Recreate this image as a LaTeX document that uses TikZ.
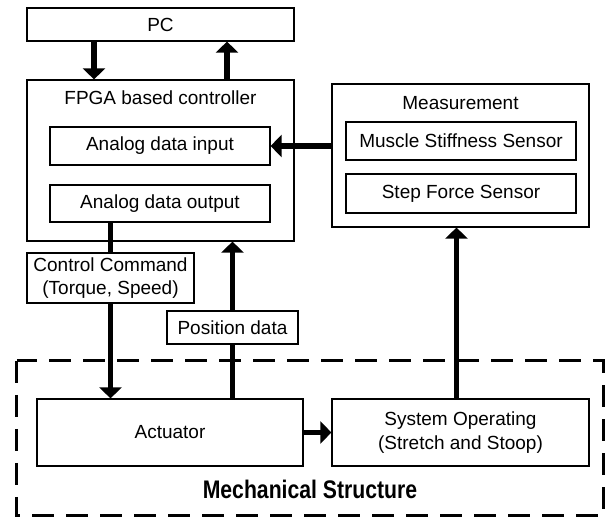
\documentclass[tikz,border=0pt]{standalone}
\usepackage{fontspec}
\setmainfont{Liberation Sans}
\usetikzlibrary{arrows.meta,positioning}

\tikzset{
 blk/.style={draw, line width=0.6pt, fill=white, inner sep=0pt, align=center,
  font=\fontsize{9.5}{11.7}\selectfont},
 lbl/.style={inner sep=0pt, font=\fontsize{9.5}{11.7}\selectfont},
 flow/.style={line width=2.7pt, -{Triangle[width=11pt,length=5.5pt]}},
 link/.style={line width=2.7pt},
 mech/.style={line width=1.5pt, dash pattern=on 11pt off 6pt},
}

\begin{document}
\begin{tikzpicture}[x=0.5pt,y=-0.5pt]
 \useasboundingbox (0,0) rectangle (607,518);
 % top blocks
 \node[blk, minimum width=133.5pt, minimum height=16.5pt] (pc) at (160.5,24.5) {PC};
 \node[blk, minimum width=133.5pt, minimum height=80.5pt] (fpga) at (160.5,160.5) {};
 \node[lbl] (fpgat) at (160.5,98) {FPGA based controller};
 \node[blk, minimum width=110pt, minimum height=19pt] (ain) at (160,146) {Analog data input};
 \node[blk, minimum width=110pt, minimum height=18.5pt] (aout) at (160,203.5) {Analog data output};

 % measurement
 \node[blk, minimum width=128.5pt, minimum height=71.5pt] (meas) at (460.5,155.5) {};
 \node[lbl] (meast) at (460.5,103) {Measurement};
 \node[blk, minimum width=115pt, minimum height=19pt] (mss) at (461,141) {Muscle Stiffness Sensor};
 \node[blk, minimum width=115pt, minimum height=19.5pt] (sfs) at (461,193.5) {Step Force Sensor};

 % signals
 \node[blk, minimum width=83.5pt, minimum height=25pt] (cmd) at (110.5,278) {Control Command\\(Torque, Speed)};
 \node[blk, minimum width=65.5pt, minimum height=16.5pt] (pos) at (232.5,327.5) {Position data};

 % mechanical structure
 \draw[mech] (17,361) rectangle (603,516);
 \node[blk, minimum width=133pt, minimum height=33.5pt] (act) at (170,432.5) {Actuator};
 \node[blk, minimum width=128.5pt, minimum height=33.5pt] (sys) at (460.5,432.5) {System Operating\\(Stretch and Stoop)};
 \node[lbl, font=\fontsize{10.6}{12}\selectfont\bfseries] (mst) at (310,489) {\scalebox{1}[1.2]{Mechanical Structure}};

 % connectors
 \draw[flow] ([xshift=-33.25pt]pc.south) -- ([xshift=-33.25pt]fpga.north);
 \draw[flow] ([xshift=33.25pt]fpga.north) -- ([xshift=33.25pt]pc.south);
 \draw[flow] (ain.east -| meas.west) -- (ain.east);
 \draw[link] (aout.south -| cmd.north) -- (cmd.north);
 \draw[flow] (cmd.south) -- (cmd.south |- act.north);
 \draw[link] (pos.south |- act.north) -- (pos.south);
 \draw[flow] (pos.north) -- (pos.north |- fpga.south);
 \draw[flow] (act.east) -- (sys.west);
 \draw[flow] ([xshift=-2pt]sys.north) -- ([xshift=-2pt]meas.south);
\end{tikzpicture}
\end{document}
